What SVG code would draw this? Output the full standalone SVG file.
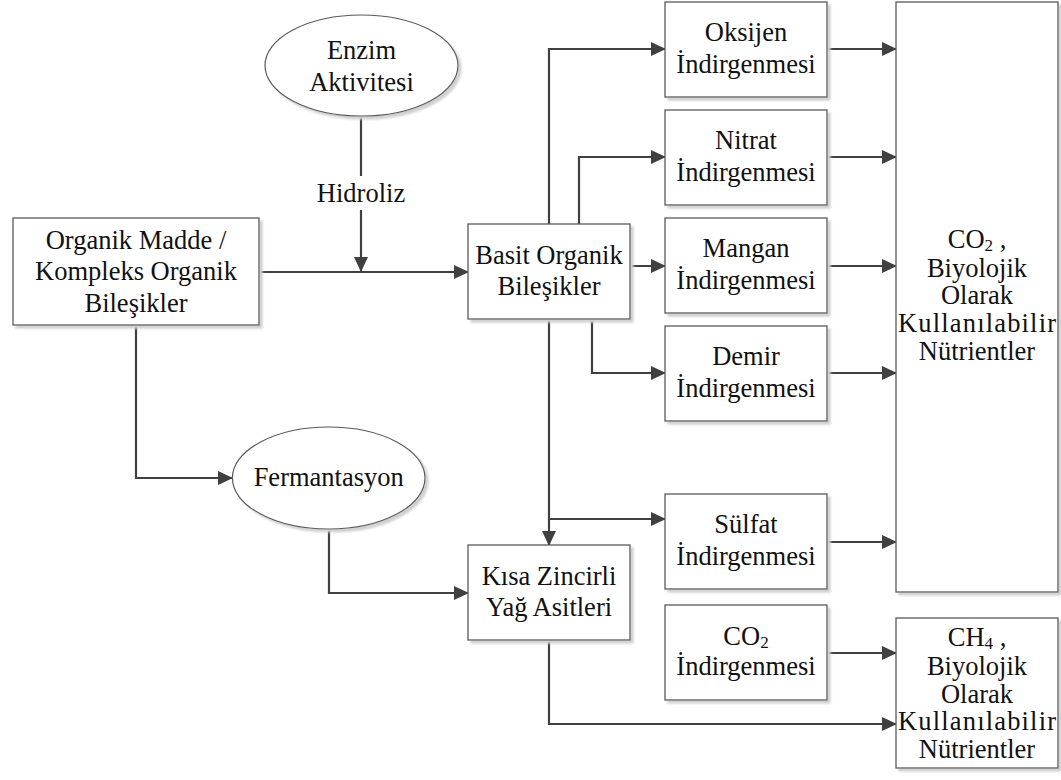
<svg xmlns="http://www.w3.org/2000/svg" width="1061" height="780" viewBox="0 0 1061 780">
<style>
  .box { fill: #ffffff; stroke: #5a5a5a; stroke-width: 1.3; filter: url(#sh); }
  .ell { fill: #ffffff; stroke: #5a5a5a; stroke-width: 1.2; filter: url(#sh); }
  .t { font-family: 'Liberation Serif', 'Times New Roman', serif; font-size: 26.5px; fill: #111111; text-anchor: middle; }
  .sub { font-size: 17px; }
  .c { fill: none; stroke: #404040; stroke-width: 2.2; }
  .ca { fill: none; stroke: #404040; stroke-width: 2.2; marker-end: url(#ah); }
</style>
<defs>
  <filter id="sh" x="-10%" y="-10%" width="130%" height="130%">
    <feDropShadow dx="3" dy="3" stdDeviation="1" flood-color="#d0d0d0" flood-opacity="1"/>
  </filter>
  <marker id="ah" markerUnits="userSpaceOnUse" markerWidth="15" markerHeight="14" refX="14" refY="7" orient="auto">
    <path d="M0,0 L15,7 L0,14 z" fill="#404040"/>
  </marker>
</defs>
<rect width="1061" height="780" fill="#ffffff"/>

<g id="connectors">
  <path class="c" d="M361,116 V176"/>
  <path class="ca" d="M361,210 V271"/>
  <path class="ca" d="M259,272 H468"/>
  <path class="ca" d="M549,224 V49 H665"/>
  <path class="ca" d="M579,224 V157 H665"/>
  <path class="ca" d="M630,266 H665"/>
  <path class="ca" d="M592,319 V373 H665"/>
  <path class="ca" d="M549,319 V545"/>
  <path class="ca" d="M549,519 H665"/>
  <path class="ca" d="M827,49 H896"/>
  <path class="ca" d="M827,157 H896"/>
  <path class="ca" d="M827,266 H896"/>
  <path class="ca" d="M827,373 H896"/>
  <path class="ca" d="M827,542 H896"/>
  <path class="ca" d="M827,653 H896"/>
  <path class="ca" d="M549,640 V724 H896"/>
  <path class="ca" d="M136,325 V478 H232"/>
  <path class="ca" d="M329,529 V593 H468"/>
  <text class="t" x="361" y="201.5">Hidroliz</text>
</g>

<g id="enzim">
  <ellipse class="ell" cx="361.5" cy="65.5" rx="96.5" ry="50.5"/>
  <text class="t" x="361.5" y="58.5">Enzim</text>
  <text class="t" x="361.5" y="90.5">Aktivitesi</text>
</g>

<g id="organik">
  <rect class="box" x="13" y="218" width="246" height="107"/>
  <text class="t" x="136" y="248.5">Organik Madde /</text>
  <text class="t" x="136" y="280">Kompleks Organik</text>
  <text class="t" x="136" y="311.5">Bileşikler</text>
</g>

<g id="fermantasyon">
  <ellipse class="ell" cx="328.7" cy="478" rx="96.3" ry="51"/>
  <text class="t" x="328.7" y="486">Fermantasyon</text>
</g>

<g id="basit">
  <rect class="box" x="468" y="224" width="162" height="95"/>
  <text class="t" x="549" y="263.5">Basit Organik</text>
  <text class="t" x="549" y="295">Bileşikler</text>
</g>

<g id="kisa">
  <rect class="box" x="468" y="545" width="162" height="95"/>
  <text class="t" x="549" y="585">Kısa Zincirli</text>
  <text class="t" x="549" y="616">Yağ Asitleri</text>
</g>

<g id="oksijen">
  <rect class="box" x="665" y="2" width="162" height="95"/>
  <text class="t" x="746" y="41">Oksijen</text>
  <text class="t" x="746" y="73">İndirgenmesi</text>
</g>

<g id="nitrat">
  <rect class="box" x="665" y="110" width="162" height="95"/>
  <text class="t" x="746" y="149">Nitrat</text>
  <text class="t" x="746" y="181">İndirgenmesi</text>
</g>

<g id="mangan">
  <rect class="box" x="665" y="218" width="162" height="95"/>
  <text class="t" x="746" y="257">Mangan</text>
  <text class="t" x="746" y="289">İndirgenmesi</text>
</g>

<g id="demir">
  <rect class="box" x="665" y="326" width="162" height="95"/>
  <text class="t" x="746" y="365">Demir</text>
  <text class="t" x="746" y="397">İndirgenmesi</text>
</g>

<g id="sulfat">
  <rect class="box" x="665" y="494" width="162" height="95"/>
  <text class="t" x="746" y="533">Sülfat</text>
  <text class="t" x="746" y="565">İndirgenmesi</text>
</g>

<g id="co2">
  <rect class="box" x="665" y="605" width="162" height="95"/>
  <text class="t" x="746" y="645">CO<tspan class="sub" baseline-shift="-3">2</tspan></text>
  <text class="t" x="746" y="675">İndirgenmesi</text>
</g>

<g id="co2-nutrient">
  <rect class="box" x="896" y="2" width="162" height="590"/>
  <text class="t" x="977" y="247.5">CO<tspan class="sub" baseline-shift="-3">2</tspan> ,</text>
  <text class="t" x="977" y="276.5">Biyolojik</text>
  <text class="t" x="977" y="304">Olarak</text>
  <text class="t" x="977" y="331.5" textLength="158" lengthAdjust="spacing">Kullanılabilir</text>
  <text class="t" x="977" y="360">Nütrientler</text>
</g>

<g id="ch4-nutrient">
  <rect class="box" x="896" y="618" width="162" height="150"/>
  <text class="t" x="977" y="645.5">CH<tspan class="sub" baseline-shift="-3">4</tspan> ,</text>
  <text class="t" x="977" y="675">Biyolojik</text>
  <text class="t" x="977" y="702.5">Olarak</text>
  <text class="t" x="977" y="730" textLength="158" lengthAdjust="spacing">Kullanılabilir</text>
  <text class="t" x="977" y="757.5">Nütrientler</text>
</g>
</svg>
